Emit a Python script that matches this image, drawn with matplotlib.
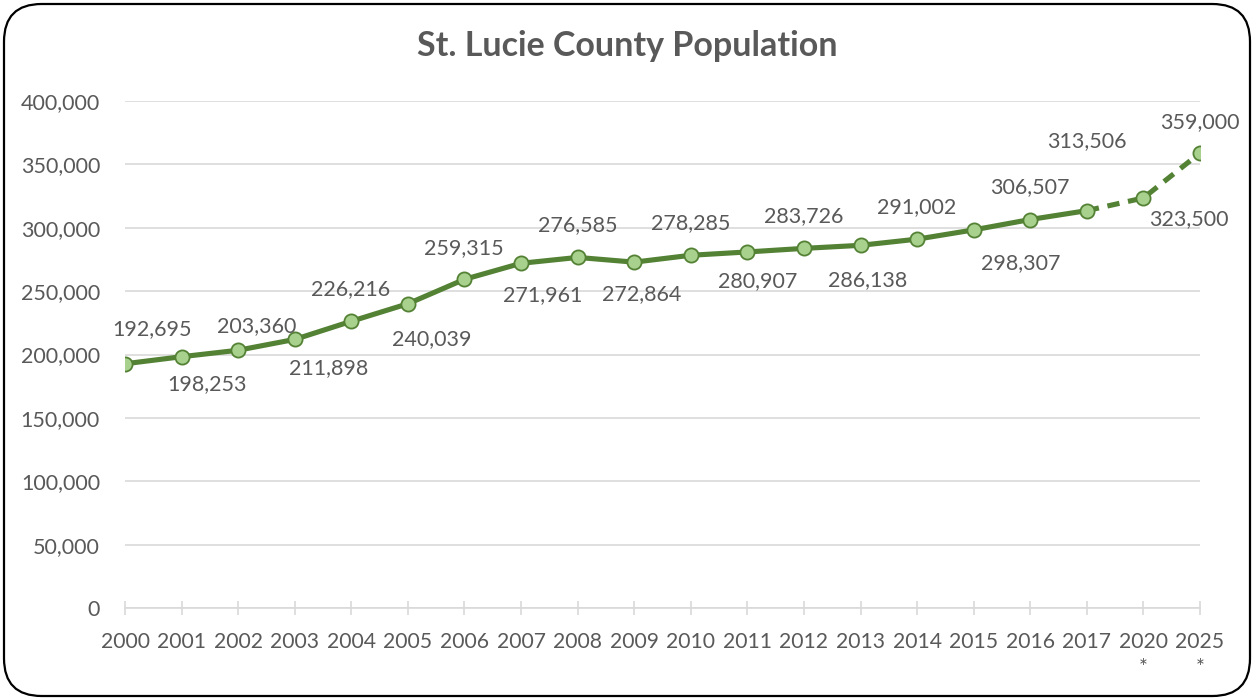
import matplotlib.pyplot as plt
from matplotlib.patches import FancyBboxPatch
from matplotlib.ticker import FuncFormatter

plt.rcParams['font.family'] = ['Lato', 'DejaVu Sans']

years = ['2000', '2001', '2002', '2003', '2004', '2005', '2006', '2007', '2008', '2009',
         '2010', '2011', '2012', '2013', '2014', '2015', '2016', '2017', '2020\n*', '2025\n*']
population = [192695, 198253, 203360, 211898, 226216, 240039, 259315, 271961, 276585, 272864,
              278285, 280907, 283726, 286138, 291002, 298307, 306507, 313506, 323500, 359000]

# hand-placed label offsets from each point, in pixels (dx, dy; +dy is up)
label_offsets = [(27, 35), (25, -27), (19, 24), (34, -29), (-1, 32), (24, -35), (-1, 31),
                 (22, -32), (0, 32), (7, -32), (0, 32), (10, -29), (0, 32), (7, -35),
                 (0, 32), (47, -33), (0, 32), (0, 70), (45, -21), (0, 31)]

line_col = '#548235'
face_col = '#A9D18E'
text_col = '#595959'
grid_col = '#D9D9D9'

fig = plt.figure(figsize=(12.54, 7.0), dpi=100)
ax = fig.add_axes([125 / 1254, 1 - 608 / 700, 1075 / 1254, 507 / 700])

x = list(range(len(years)))
n_actual = 18  # estimates start after 2017
ax.plot(x[:n_actual], population[:n_actual], color=line_col, lw=3.7, zorder=3, solid_capstyle='round')
ax.plot(x[n_actual - 1:], population[n_actual - 1:], color=line_col, lw=3.7, ls=(0, (2.4, 1.7)), zorder=3)
ax.plot(x, population, ls='none', marker='o', ms=10.2, mfc=face_col, mec=line_col, mew=1.3, zorder=4)

for xi, v, (dx, dy) in zip(x, population, label_offsets):
    ax.annotate(f'{v:,}', (xi, v), xytext=(dx * 0.72, dy * 0.72), textcoords='offset points',
                ha='center', va='center', fontsize=15.5, color=text_col, zorder=5)

ax.set_xlim(0, len(years) - 1)
ax.set_ylim(0, 400000)
ax.set_yticks(range(0, 400001, 50000))
ax.yaxis.set_major_formatter(FuncFormatter(lambda v, p: f'{int(v):,}'))
ax.set_xticks(x)
ax.set_xticklabels(years, linespacing=1.4)
ax.grid(axis='y', color=grid_col, lw=1.2)
ax.set_axisbelow(True)
for side in ['top', 'right', 'left']:
    ax.spines[side].set_visible(False)
ax.spines['bottom'].set_color(grid_col)
ax.spines['bottom'].set_linewidth(1.2)
ax.tick_params(axis='y', length=0, pad=18, labelsize=15.5, labelcolor=text_col)
ax.tick_params(axis='x', direction='inout', length=10, width=1.2, color=grid_col, pad=12,
               labelsize=15.2, labelcolor=text_col)

fig.text(0.5, 1 - 46 / 700, 'St. Lucie County Population', ha='center', va='center',
         fontsize=24.5, fontweight='bold', color=text_col)

border = FancyBboxPatch((4 / 1254, 4 / 700), 1246 / 1254, 692 / 700,
                        boxstyle='round,pad=0,rounding_size=0.03', transform=fig.transFigure,
                        fc='none', ec='black', lw=1.6, mutation_aspect=1254 / 700)
fig.patches.append(border)

fig.savefig('out.png', dpi=100)
